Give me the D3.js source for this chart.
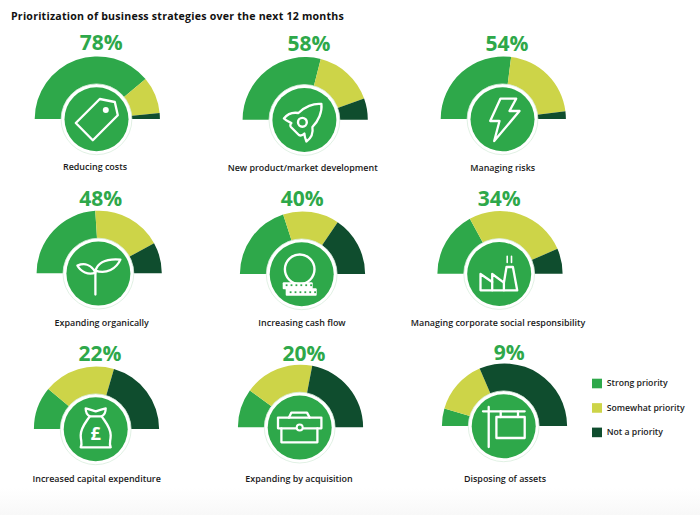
<!DOCTYPE html>
<html>
<head>
<meta charset="utf-8">
<script src="https://cdn.jsdelivr.net/npm/d3@7"></script>
<style>
    html, body { margin: 0; padding: 0; background: #fff; }
    svg { display: block; }
    text { font-family: "Open Sans", sans-serif; }
</style>
</head>
<body>
<div id="root"></div>
<script>
const titleText = 'Prioritization of business strategies over the next 12 months';
const strategies = [
    'Reducing costs', 'New product/market development', 'Managing risks',
    'Expanding organically', 'Increasing cash flow', 'Managing corporate social responsibility',
    'Increased capital expenditure', 'Expanding by acquisition', 'Disposing of assets',
];
const seriesNames = ['Strong priority', 'Somewhat priority', 'Not a priority'];
const strongPriority = [78, 58, 54, 48, 40, 34, 22, 20, 9];
const somewhatPriority = [19, 31, 42, 36, 29, 53, 37, 36, 28];
const notPriority = [3, 11, 4, 16, 31, 13, 41, 44, 63];

const Width = 700;
const Height = 515;
const Colors = ['#2ea84a', '#cdd448', '#0f4d2e'];
const Gauge = { Outer: 62.6, Inner: 30 };
const Badge = { Radius: 32, Ring: 35.4 };

// the grid in the source is slightly uneven, so each gauge has its own anchors
const Layout = [
    { cx: 97.3, cy: 119, px: 101.3, py: 50, lx: 95, ly: 169.5 },
    { cx: 305.2, cy: 119.7, px: 309, py: 51, lx: 302.7, ly: 171 },
    { cx: 503.3, cy: 119, px: 507, py: 51, lx: 502.7, ly: 171 },
    { cx: 99.2, cy: 273.3, px: 100.7, py: 205.7, lx: 101.7, ly: 326 },
    { cx: 302.5, cy: 274, px: 302.3, py: 205.7, lx: 302, ly: 326 },
    { cx: 500, cy: 273.7, px: 499.3, py: 205.7, lx: 498, ly: 326 },
    { cx: 96.5, cy: 429, px: 100, py: 361, lx: 96.7, ly: 482 },
    { cx: 300.5, cy: 427.3, px: 304, py: 361, lx: 299, ly: 482 },
    { cx: 504.5, cy: 426, px: 509.3, py: 360, lx: 505, ly: 482 },
];

const svg = d3.select('#root')
    .append('svg')
    .attr('width', Width)
    .attr('height', Height)
    .attr('viewBox', [0, 0, Width, Height]);

const fade = svg.append('defs').append('linearGradient')
    .attr('id', 'fade')
    .attr('x1', 0).attr('x2', 0).attr('y1', 0).attr('y2', 1);
fade.append('stop').attr('offset', 0).attr('stop-color', '#fff');
fade.append('stop').attr('offset', 1).attr('stop-color', '#f8f8f8');

svg.append('rect')
    .attr('y', 488)
    .attr('width', Width)
    .attr('height', Height - 488)
    .attr('fill', 'url(#fade)');

svg.append('text')
    .attr('x', 11)
    .attr('y', 20)
    .attr('font-size', 10.6)
    .attr('font-weight', 700)
    .attr('letter-spacing', 0.22)
    .attr('fill', '#111')
    .text(titleText);

const pie = d3.pie()
    .sort(null)
    .startAngle(-Math.PI / 2)
    .endAngle(Math.PI / 2);
const arc = d3.arc()
    .innerRadius(Gauge.Inner)
    .outerRadius(Gauge.Outer);

// icon painters, drawn around the badge centre
function line(g, d, width = 2.3) {
    return g.append('path')
        .attr('d', d)
        .attr('fill', 'none')
        .attr('stroke', '#fff')
        .attr('stroke-width', width)
        .attr('stroke-linejoin', 'round')
        .attr('stroke-linecap', 'round');
}

const Icons = [
    g => { // tag
        line(g, 'M-20.7,3.7L3.3,-20.3L18.3,-17.3L21.3,-4L-3.7,21Z');
        g.append('circle').attr('cx', 9.3).attr('cy', -9.3).attr('r', 3).attr('fill', '#fff');
    },
    g => { // rocket
        line(g, 'M17,-16C9,-17 0,-13 -6,-7C-12,-8 -17,-6 -20.5,-1.5C-18,1 -15,2 -13,3C-15,5 -14,7 -12.5,8L-5.5,15C-4,16 -2,15.5 0,13.5C0,16 1,19 2,21.5C7,18 9,13 8,7C14,1 18,-8 17,-16Z');
        g.append('circle').attr('cx', -2).attr('cy', 2.3).attr('r', 4.4)
            .attr('fill', 'none').attr('stroke', '#fff').attr('stroke-width', 2.4);
    },
    g => { // lightning
        line(g, 'M-2,-20.7L13.7,-20.7L7,-8.3L17,-8.3L-8.3,21.7L-3,1.7L-12.3,1.7Z');
    },
    g => { // sprout
        line(g, 'M-3,-4L-3,21');
        line(g, 'M-3,-1C-7,-9 -14,-11 -21,-8C-18,-2 -10,2 -3,-1Z');
        line(g, 'M-3,-3C0,-12 10,-15 22,-14C18,-5 8,1 -3,-3Z');
    },
    g => { // coin stack
        g.append('circle').attr('cx', -2).attr('cy', -5).attr('r', 14.8)
            .attr('fill', 'none').attr('stroke', '#fff').attr('stroke-width', 2.4);
        g.append('rect').attr('x', -19).attr('y', 8).attr('width', 30).attr('height', 7).attr('rx', 1).attr('fill', '#fff');
        g.append('rect').attr('x', -16).attr('y', 14).attr('width', 31).attr('height', 7.4).attr('rx', 1).attr('fill', '#fff');
        g.selectAll('.dot-a').data(d3.range(6)).join('rect')
            .attr('class', 'dot-a')
            .attr('x', i => -16 + i * 4.9).attr('y', 10).attr('width', 1.8).attr('height', 1.8).attr('fill', Colors[0]);
        g.selectAll('.dot-b').data(d3.range(6)).join('rect')
            .attr('class', 'dot-b')
            .attr('x', i => -12 + i * 4.9).attr('y', 17).attr('width', 1.8).attr('height', 1.8).attr('fill', Colors[0]);
    },
    g => { // factory
        line(g, 'M-18.7,16.3L-18.7,0L-7,8L-7,0L4.7,8.7L7.3,-7L13.7,-7L18,16.3Z');
        line(g, 'M-7,8L-7,16.3M4.7,8.7L4.7,16.3');
        line(g, 'M8,-17.7L8,-11.5M12.3,-17.7L12.3,-11.5', 1.6);
    },
    g => { // money bag
        line(g, 'M-10,-21C-6,-20 -3,-19 0,-18C3,-19 6,-20 10,-21C10,-17 8,-14 6,-13C9,-8 15,-2 15,6C15,12 13,14 15,18L-15,18C-13,14 -15,12 -15,6C-15,-2 -9,-8 -6,-13C-8,-14 -10,-17 -10,-21Z');
        line(g, 'M-6,-13L6,-13');
        g.append('text')
            .attr('text-anchor', 'middle')
            .attr('y', 11)
            .attr('font-size', 18)
            .attr('font-weight', 700)
            .attr('fill', '#fff')
            .text('£');
    },
    g => { // briefcase
        line(g, 'M-21.7,-10L21.7,-10L21.7,0.7L-21.7,0.7Z');
        line(g, 'M-18.3,0.7L-18.3,14.7L17.7,14.7L17.7,0.7');
        line(g, 'M-10.7,-10L-8.3,-15L7.3,-15L10,-10');
        g.append('circle').attr('r', 3).attr('fill', Colors[0]).attr('stroke', '#fff').attr('stroke-width', 2);
    },
    g => { // for-sale sign
        line(g, 'M-15,-19.3L-15,20.7M-20.7,-15L21,-15');
        line(g, 'M-7.3,-9.3L21,-9.3L21,11.7L-7.3,11.7Z');
        line(g, 'M-3,-15L-3,-9.3M14.3,-15L14.3,-9.3');
    },
];

const gauges = svg.append('g')
    .selectAll('g')
    .data(strategies)
    .join('g')
    .attr('transform', (d, i) => `translate(${Layout[i].cx},${Layout[i].cy})`);

gauges.each(function (name, i) {
    const g = d3.select(this);
    const values = [strongPriority[i], somewhatPriority[i], notPriority[i]];

    g.selectAll('path.slice')
        .data(pie(values))
        .join('path')
        .attr('class', 'slice')
        .attr('fill', (d, j) => Colors[j])
        .attr('d', arc);

    const badge = g.append('g').attr('transform', 'translate(-0.8,0.3)');
    badge.append('circle')
        .attr('r', Badge.Ring)
        .attr('fill', '#fff')
        .attr('stroke', '#d9eedd')
        .attr('stroke-width', 0.8);
    badge.append('circle')
        .attr('r', Badge.Radius)
        .attr('fill', Colors[0]);
    Icons[i](badge);
});

svg.append('g')
    .selectAll('text')
    .data(strongPriority)
    .join('text')
    .attr('x', (d, i) => Layout[i].px)
    .attr('y', (d, i) => Layout[i].py)
    .attr('text-anchor', 'middle')
    .attr('font-size', 21)
    .attr('font-weight', 700)
    .attr('fill', Colors[0])
    .text(d => `${d}%`);

svg.append('g')
    .selectAll('text')
    .data(strategies)
    .join('text')
    .attr('x', (d, i) => Layout[i].lx)
    .attr('y', (d, i) => Layout[i].ly)
    .attr('text-anchor', 'middle')
    .attr('font-size', 8.95)
    .attr('font-weight', 600)
    .attr('fill', '#1a1a1a')
    .text(d => d);

const legendY = d3.scalePoint().domain(seriesNames).range([378.7, 427.6]);
const legend = svg.append('g')
    .selectAll('g')
    .data(seriesNames)
    .join('g')
    .attr('transform', d => `translate(592,${legendY(d)})`);
legend.append('rect')
    .attr('width', 10)
    .attr('height', 9.6)
    .attr('fill', (d, i) => Colors[i]);
legend.append('text')
    .attr('x', 14.7)
    .attr('y', 7.6)
    .attr('font-size', 8.7)
    .attr('font-weight', 600)
    .attr('fill', '#222')
    .text(d => d);
</script>
</body>
</html>
